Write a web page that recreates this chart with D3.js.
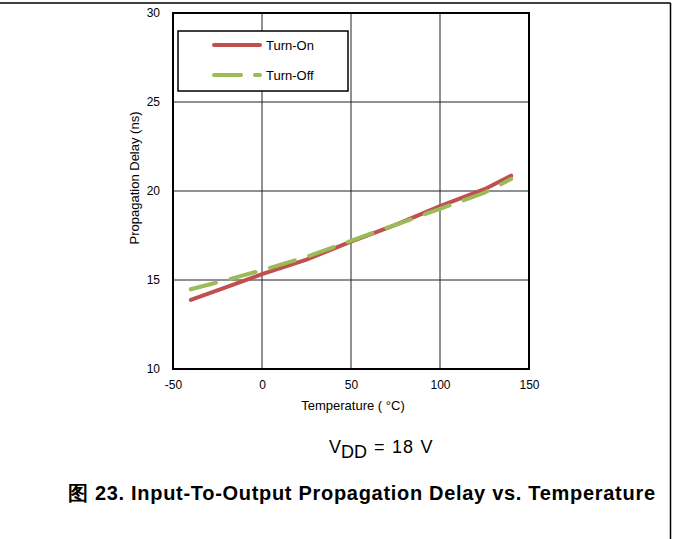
<!DOCTYPE html>
<html>
<head>
<meta charset="utf-8">
<script src="https://cdn.jsdelivr.net/npm/d3@7"></script>
<style>
  html, body { margin: 0; padding: 0; background: #fff; }
  svg { display: block; }
  text { font-family: Arial, "Liberation Sans", sans-serif; }
</style>
</head>
<body>
<svg id="chart" width="673" height="539"></svg>
<script>
// ---- data ----
const temperatures = [-40, -20, 0, 25, 50, 75, 100, 125, 140];
const turnOn  = [13.88, 14.6, 15.33, 16.15, 17.15, 18.1, 19.15, 20.1, 20.86];
const turnOff = [14.48, 15.0, 15.55, 16.3, 17.2, 18.1, 19.0, 19.9, 20.68];
const seriesNames = ["Turn-On", "Turn-Off"];
const xTicks = [-50, 0, 50, 100, 150];
const yTicks = [10, 15, 20, 25, 30];
const xLabel = "Temperature ( °C)";
const yLabel = "Propagation Delay (ns)";
const captionText = "图 23. Input-To-Output Propagation Delay vs. Temperature";

const svg = d3.select("#chart");
const W = 673, H = 539;
const plot = { left: 173, right: 529, top: 13, bottom: 369 };
const FONT = "Arial, 'Liberation Sans', sans-serif";

// outer frame (top and right)
svg.append("line").attr("x1", 0).attr("x2", 670.5).attr("y1", 3).attr("y2", 3)
  .attr("stroke", "#000").attr("stroke-width", 1.5);
svg.append("line").attr("x1", 670.5).attr("x2", 670.5).attr("y1", 3).attr("y2", H)
  .attr("stroke", "#000").attr("stroke-width", 1.5);

const x = d3.scaleLinear().domain([-50, 150]).range([plot.left, plot.right]);
const y = d3.scaleLinear().domain([10, 30]).range([plot.bottom, plot.top]);

// grid
const grid = svg.append("g");
grid.selectAll("line.v").data(xTicks.slice(1, -1)).enter().append("line")
  .attr("x1", d => x(d)).attr("x2", d => x(d))
  .attr("y1", plot.top).attr("y2", plot.bottom)
  .attr("stroke", "#222").attr("stroke-width", 1);
grid.selectAll("line.h").data(yTicks.slice(1, -1)).enter().append("line")
  .attr("x1", plot.left).attr("x2", plot.right)
  .attr("y1", d => y(d)).attr("y2", d => y(d))
  .attr("stroke", "#222").attr("stroke-width", 1);

// axes (labels only)
const fmt = d => String(d);
const xAxis = d3.axisBottom(x).tickValues(xTicks).tickFormat(fmt).tickSize(0).tickPadding(11);
const gx = svg.append("g").attr("transform", `translate(0,${plot.bottom})`).call(xAxis);
gx.select(".domain").remove();
gx.selectAll("text").attr("font-size", 12).attr("fill", "#000").attr("font-family", FONT);

const yAxis = d3.axisLeft(y).tickValues(yTicks).tickFormat(fmt).tickSize(0).tickPadding(13);
const gy = svg.append("g").attr("transform", `translate(${plot.left},0)`).call(yAxis);
gy.select(".domain").remove();
gy.selectAll("text").attr("font-size", 12).attr("fill", "#000").attr("font-family", FONT);

// series lines
const line = d3.line().x((d, i) => x(temperatures[i])).y(d => y(d));
svg.append("path").datum(turnOn).attr("d", line)
  .attr("fill", "none").attr("stroke", "#C0504D").attr("stroke-width", 4)
  .attr("stroke-linecap", "round");
svg.append("path").datum(turnOff).attr("d", line)
  .attr("fill", "none").attr("stroke", "#9BBB59").attr("stroke-width", 4)
  .attr("stroke-linecap", "round").attr("stroke-dasharray", "26,15");

// plot border
svg.append("rect").attr("x", plot.left).attr("y", plot.top)
  .attr("width", plot.right - plot.left).attr("height", plot.bottom - plot.top)
  .attr("fill", "none").attr("stroke", "#000").attr("stroke-width", 2);

// legend
const lg = svg.append("g");
lg.append("rect").attr("x", 178).attr("y", 31).attr("width", 170).attr("height", 60)
  .attr("fill", "#fff").attr("stroke", "#000").attr("stroke-width", 1.5);
const legendColors = ["#C0504D", "#9BBB59"];
const legendDash = [null, "27,14"];
seriesNames.forEach((name, i) => {
  const ly = 45 + i * 30;
  const l = lg.append("line").attr("x1", 214).attr("x2", 260).attr("y1", ly).attr("y2", ly)
    .attr("stroke", legendColors[i]).attr("stroke-width", 4).attr("stroke-linecap", "round");
  if (legendDash[i]) l.attr("stroke-dasharray", legendDash[i]);
  lg.append("text").attr("x", 266).attr("y", ly + 5).attr("font-size", 13).text(name);
});

// axis titles
svg.append("text").attr("x", 353).attr("y", 410)
  .attr("text-anchor", "middle").attr("font-size", 13).text(xLabel);
svg.append("text").attr("transform", `translate(139,178) rotate(-90)`)
  .attr("text-anchor", "middle").attr("font-size", 13).text(yLabel);

// condition note
const note = svg.append("text").attr("y", 453).attr("font-size", 18);
note.append("tspan").attr("x", 329).text("V");
note.append("tspan").attr("x", 341).attr("dy", 5).text("DD");
note.append("tspan").attr("x", 374).attr("dy", -5).text("= 18 V").attr("letter-spacing", 1.2);

// caption
svg.append("text").attr("x", 68).attr("y", 500).attr("font-size", 20)
  .attr("font-weight", "bold").attr("textLength", 587).attr("lengthAdjust", "spacing")
  .text(captionText);
</script>
</body>
</html>
